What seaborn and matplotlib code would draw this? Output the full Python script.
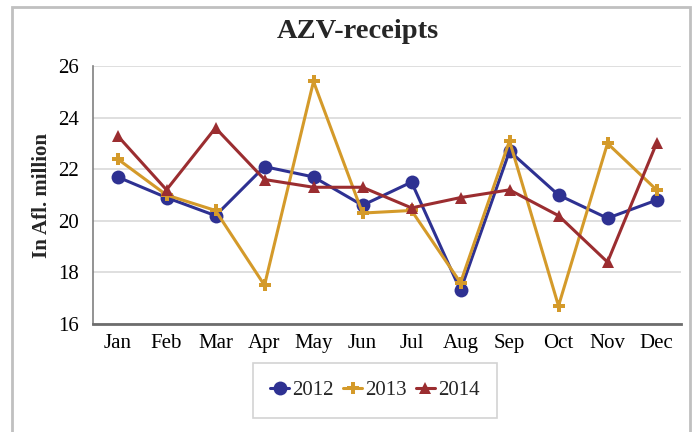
import matplotlib
matplotlib.use("Agg")
import matplotlib.pyplot as plt
import seaborn as sns
import pandas as pd
from matplotlib.patches import Rectangle

months = ["Jan", "Feb", "Mar", "Apr", "May", "Jun", "Jul", "Aug", "Sep", "Oct", "Nov", "Dec"]
y2012 = [21.7, 20.9, 20.2, 22.1, 21.7, 20.6, 21.5, 17.3, 22.7, 21.0, 20.1, 20.8]
y2013 = [22.4, 21.0, 20.4, 17.5, 25.4, 20.3, 20.4, 17.6, 23.1, 16.7, 23.0, 21.2]
y2014 = [23.3, 21.2, 23.6, 21.6, 21.3, 21.3, 20.5, 20.9, 21.2, 20.2, 18.4, 23.0]
years = ["2012", "2013", "2014"]
colors = {"2012": "#2E3192", "2013": "#D49A2A", "2014": "#9B2D30"}
markers = {"2012": "o", "2013": "P", "2014": "^"}
msizes = {"2012": 10, "2013": 9, "2014": 8.5}

rows = []
for yr, vals in zip(years, [y2012, y2013, y2014]):
    for m, v in zip(months, vals):
        rows.append({"Month": m, "Value": v, "Year": yr})
df = pd.DataFrame(rows)

sns.set_theme(style="white")
plt.rcParams["font.family"] = ["Liberation Serif", "DejaVu Serif"]

fig = plt.figure(figsize=(6.97, 4.32), dpi=100)
ax = fig.add_axes([93 / 697, 1 - 324 / 432, (681 - 93) / 697, (324 - 66) / 432])

for yr in years:
    sub = df[df["Year"] == yr]
    sns.lineplot(data=sub, x="Month", y="Value", ax=ax, color=colors[yr],
                 marker=markers[yr], markersize=msizes[yr], markeredgewidth=0,
                 linewidth=2.2, label=yr, sort=False)

ax.set_xlim(-0.5, 11.5)
ax.set_ylim(16, 26)
ax.set_yticks([16, 18, 20, 22, 24, 26])
ax.yaxis.grid(True, color="#d9d9d9", linewidth=1.2)
ax.xaxis.grid(False)
ax.set_axisbelow(True)
for s in ["top", "right"]:
    ax.spines[s].set_visible(False)
ax.spines["left"].set_color("#808080")
ax.spines["left"].set_linewidth(1.2)
ax.spines["bottom"].set_color("#6d6d6d")
ax.spines["bottom"].set_linewidth(2)
ax.tick_params(axis="both", length=0, labelsize=15, colors="black")
ax.tick_params(axis="x", pad=7)
ax.tick_params(axis="y", pad=10)
ax.set_xlabel("")
ax.set_ylabel("In Afl. million", fontsize=15, fontweight="bold")
ax.yaxis.set_label_coords(42 / 697, 0.5, transform=fig.transFigure)
ax.yaxis.label.set_verticalalignment("center")
ax.yaxis.label.set_position((42 / 697, 1 - 195 / 432))
ax.get_legend().remove()

fig.suptitle("AZV-receipts", x=358 / 697, y=1 - 31 / 432, va="center",
             fontsize=20.5, fontweight="bold")

handles, labels = ax.get_legend_handles_labels()
leg = fig.legend(handles, labels, loc="center", bbox_to_anchor=(375 / 697, 1 - 390 / 432),
                 ncol=3, frameon=True, fontsize=15, handlelength=0.9, handletextpad=0.15,
                 columnspacing=0.45, borderpad=0.85, fancybox=False)
leg.get_frame().set_edgecolor("#c8c8c8")
leg.get_frame().set_linewidth(1.2)

fig.patches.append(Rectangle((12 / 697, -0.02), (690 - 12) / 697, 1 - 7 / 432 + 0.02,
                             transform=fig.transFigure, fill=False,
                             edgecolor="#c0c0c0", linewidth=2))

fig.savefig("out.png", dpi=100)
